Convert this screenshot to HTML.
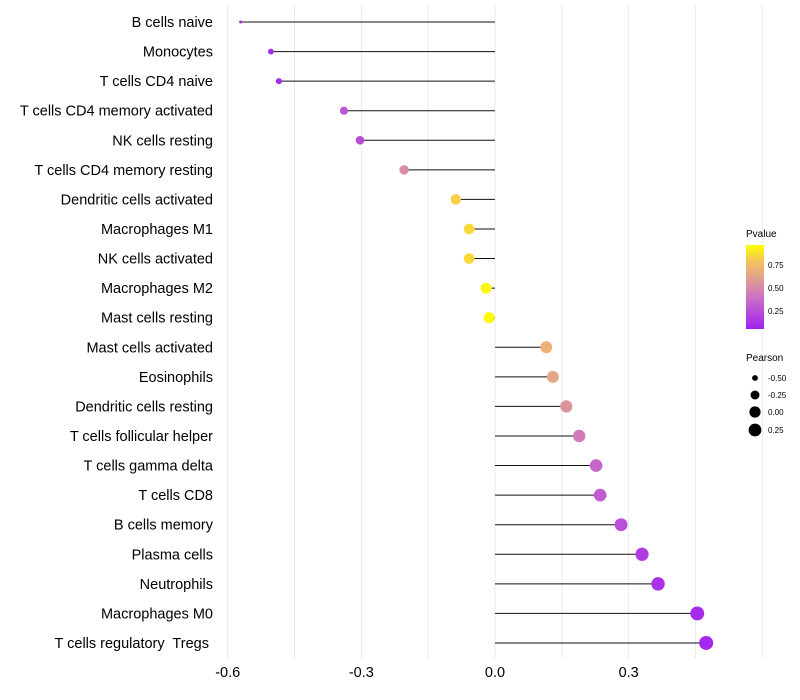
<!DOCTYPE html>
<html><head><meta charset="utf-8"><style>
body{margin:0;background:#fff;}
svg{display:block;font-family:"Liberation Sans",sans-serif;}
</style></head><body>
<svg id="chart" width="800" height="700">
<defs><linearGradient id="pg" x1="0" y1="1" x2="0" y2="0">
<stop offset="0" stop-color="#a020f0"/><stop offset="0.35" stop-color="#c86cc8"/><stop offset="0.6" stop-color="#e0a090"/><stop offset="0.8" stop-color="#f5c060"/><stop offset="1" stop-color="#ffff00"/></linearGradient></defs>
<g id="grid"></g><g id="marks"></g><g id="labels"></g>
<g>
<text x="746" y="237" font-size="10">Pvalue</text>
<rect x="746" y="245" width="18" height="84" fill="url(#pg)"/>
<text x="768" y="268" font-size="8">0.75</text>
<text x="768" y="291" font-size="8">0.50</text>
<text x="768" y="314" font-size="8">0.25</text>
</g>
<g>
<text x="746" y="361" font-size="10">Pearson</text>
<circle cx="755" cy="378" r="2.9"/><text x="768" y="381" font-size="8">-0.50</text>
<circle cx="755" cy="395" r="4.5"/><text x="768" y="398" font-size="8">-0.25</text>
<circle cx="755" cy="412" r="5.6"/><text x="768" y="415" font-size="8">0.00</text>
<circle cx="755" cy="430" r="6.4"/><text x="768" y="433" font-size="8">0.25</text>
</g>
</svg>
<script>
const categories=["B cells naive","Monocytes","T cells CD4 naive","T cells CD4 memory activated","NK cells resting","T cells CD4 memory resting","Dendritic cells activated","Macrophages M1","NK cells activated","Macrophages M2","Mast cells resting","Mast cells activated","Eosinophils","Dendritic cells resting","T cells follicular helper","T cells gamma delta","T cells CD8","B cells memory","Plasma cells","Neutrophils","Macrophages M0","T cells regulatory  Tregs\u00a0"];
const pearson=[-0.571,-0.503,-0.485,-0.339,-0.303,-0.204,-0.088,-0.058,-0.058,-0.020,-0.013,0.115,0.130,0.160,0.189,0.227,0.236,0.283,0.330,0.366,0.454,0.474];
const pvalue=[0.02,0.05,0.05,0.25,0.2,0.5,0.85,0.88,0.88,0.97,0.98,0.7,0.65,0.55,0.42,0.32,0.28,0.22,0.13,0.08,0.05,0.03];
const xTicks=[-0.6,-0.3,0.0,0.3];
const xTickLabels=["-0.6","-0.3","0.0","0.3"];
const NS="http://www.w3.org/2000/svg";
const x=v=>495+v*445.5;
const y=i=>22+i*29.57;
const r=v=>1.5+5.5*Math.sqrt(Math.max(0,(v+0.57)/1.04));
const stops=[[0,[160,32,240]],[0.35,[200,108,200]],[0.6,[224,160,144]],[0.8,[245,192,96]],[1,[255,255,0]]];
function col(p){for(let k=1;k<stops.length;k++){if(p<=stops[k][0]){const a=stops[k-1],b=stops[k],t=(p-a[0])/(b[0]-a[0]);return`rgb(${a[1].map((c,j)=>Math.round(c+(b[1][j]-c)*t)).join(",")})`;}}return"rgb(255,255,0)";}
function mk(t,at,parent){const e=document.createElementNS(NS,t);for(const k in at)e.setAttribute(k,at[k]);parent.appendChild(e);return e;}
const grid=document.getElementById('grid'),marks=document.getElementById('marks'),labels=document.getElementById('labels');
for(let v=-0.6;v<=0.61;v+=0.15){const g=mk('line',{x1:x(v),x2:x(v),y1:5,y2:658,stroke:'#ebebeb','stroke-width':1},grid);

}
xTicks.forEach((v,i)=>{const t=mk('text',{x:x(v),y:677,'font-size':14.5,'text-anchor':'middle',fill:'#000'},labels);t.textContent=xTickLabels[i];

});
categories.forEach((c,i)=>{const t=mk('text',{x:213,y:y(i)+5,'font-size':14.5,'text-anchor':'end',fill:'#000','xml:space':'preserve'},labels);t.textContent=c;
t.setAttribute('style','white-space:pre');


const l=mk('line',{x1:x(0),x2:x(pearson[i]),y1:y(i),y2:y(i),stroke:'#111','stroke-width':1},marks);


const d=mk('circle',{cx:x(pearson[i]),cy:y(i),r:r(pearson[i]),fill:col(pvalue[i])},marks);

});
</script>
</body></html>
